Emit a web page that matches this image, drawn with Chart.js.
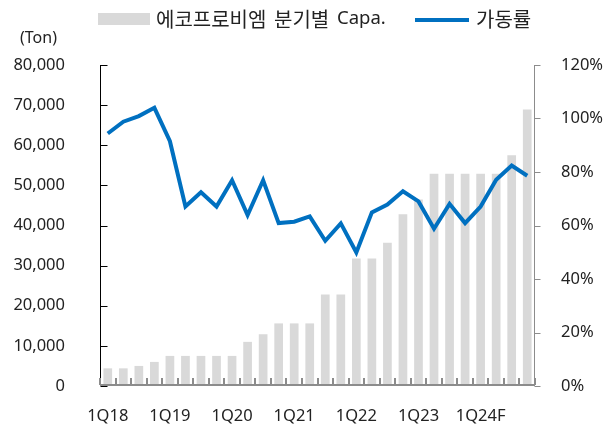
<!DOCTYPE html>
<html>
<head>
<meta charset="utf-8">
<script src="https://cdn.jsdelivr.net/npm/chart.js@4.4.1/dist/chart.umd.min.js"></script>
<style>
body { margin: 0; background: #fff; }
#wrap { position: relative; width: 611px; height: 425px; }
#c { position: absolute; left: 0; top: 0; }
.lg { position: absolute; font-family: "Noto Sans CJK KR", sans-serif; font-size: 20px; color: #222; line-height: 1; white-space: nowrap; }
</style>
</head>
<body>
<div id="wrap">
  <canvas id="c" width="611" height="425"></canvas>
  <div style="position:absolute;left:98px;top:13px;width:52px;height:12px;background:#d9d9d9"></div>
  <div class="lg" style="left:156px;top:9px">에코프로비엠</div>
  <div class="lg" style="left:274px;top:9px">분기별</div>
  <div class="lg" style="left:337px;top:8px;font-family:'Noto Sans',sans-serif;font-size:18.5px">Capa.</div>
  <div style="position:absolute;left:415px;top:18px;width:54px;height:4px;background:#0070c0"></div>
  <div class="lg" style="left:476px;top:9px">가동률</div>
  <div class="lg" style="left:20px;top:29px;font-family:'Noto Sans',sans-serif;font-size:16px">(Ton)</div>
</div>
<script>
// 분기
const quarters = [
  '1Q18','2Q18','3Q18','4Q18',
  '1Q19','2Q19','3Q19','4Q19',
  '1Q20','2Q20','3Q20','4Q20',
  '1Q21','2Q21','3Q21','4Q21',
  '1Q22','2Q22','3Q22','4Q22',
  '1Q23','2Q23','3Q23','4Q23',
  '1Q24F','2Q24F','3Q24F','4Q24F'
];
// 분기별 Capa (Ton)
const capa = [4400, 4400, 5000, 6000, 7500, 7500, 7500, 7500, 7500, 11000, 12900, 15600, 15600, 15600,
  22800, 22800, 31800, 31800, 35700, 42800, 46500, 52900, 52900, 52900, 52900, 52900, 57500, 68900];
// 가동률 (%)
const util = [94.4, 98.8, 100.9, 104, 91.5, 67.1, 72.4, 67.1, 76.9, 63.9, 76.9, 60.9, 61.4, 63.4,
  54.3, 60.8, 49.9, 64.9, 67.8, 72.8, 69, 58.8, 68.1, 60.9, 67.1, 77.1, 82.4, 78.6];

const font = { family: '"Noto Sans", "Noto Sans CJK KR", sans-serif', size: 16.5 };

// 축선과 안쪽 눈금
const axisLines = {
  id: 'axisLines',
  afterDatasetsDraw(chart) {
    const { ctx, chartArea: a, scales: { x, y, y2 } } = chart;
    ctx.save();
    ctx.strokeStyle = '#000';
    ctx.lineWidth = 1;
    ctx.beginPath();
    const lx = Math.round(a.left) + 0.5;
    ctx.moveTo(lx, a.top);
    ctx.lineTo(lx, a.bottom);
    y.ticks.forEach(t => {
      const py = Math.round(y.getPixelForValue(t.value)) + 0.5;
      ctx.moveTo(lx, py);
      ctx.lineTo(lx + 7, py);
    });
    ctx.stroke();

    ctx.strokeStyle = '#8c8c8c';
    ctx.beginPath();
    const rx = Math.round(a.right) - 0.5;
    ctx.moveTo(rx, a.top);
    ctx.lineTo(rx, a.bottom);
    y2.ticks.forEach(t => {
      const py = Math.round(y2.getPixelForValue(t.value)) + 0.5;
      ctx.moveTo(rx, py);
      ctx.lineTo(rx + 6, py);
    });
    ctx.stroke();

    ctx.lineWidth = 2;
    ctx.beginPath();
    const by = Math.round(a.bottom) - 1;
    ctx.moveTo(a.left, by);
    ctx.lineTo(a.right, by);
    const half = (x.getPixelForValue(1) - x.getPixelForValue(0)) / 2;
    for (let i = 0; i <= quarters.length; i++) {
      const px = Math.round(x.getPixelForValue(0) - half + i * half * 2);
      ctx.moveTo(px, by);
      ctx.lineTo(px, by - 7);
    }
    ctx.stroke();
    ctx.restore();
  }
};

new Chart(document.getElementById('c'), {
  type: 'bar',
  data: {
    labels: quarters,
    datasets: [
      {
        type: 'line',
        label: '가동률',
        data: util,
        yAxisID: 'y2',
        borderColor: '#0070c0',
        borderWidth: 4,
        pointRadius: 0,
        tension: 0,
        order: 1
      },
      {
        label: '에코프로비엠 분기별 Capa.',
        data: capa,
        yAxisID: 'y',
        backgroundColor: '#d9d9d9',
        categoryPercentage: 1,
        barPercentage: 0.56,
        order: 2
      }
    ]
  },
  options: {
    responsive: false,
    animation: false,
    layout: { padding: { top: 65, left: 0, right: 0, bottom: 0 } },
    plugins: { legend: { display: false }, tooltip: { enabled: false } },
    scales: {
      x: {
        grid: { display: false },
        border: { display: false },
        ticks: {
          autoSkip: false,
          maxRotation: 0,
          padding: 12,
          color: '#222',
          font: font,
          callback: (v, i) => (i % 4 === 0 ? quarters[i] : '')
        },
        afterFit: s => { s.height = 39; }
      },
      y: {
        position: 'left',
        min: 0,
        max: 80000,
        grid: { display: false },
        border: { display: false },
        ticks: {
          stepSize: 10000,
          padding: 27,
          color: '#222',
          font: font,
          callback: v => v.toLocaleString('en-US')
        },
        afterFit: s => { s.width = 100; }
      },
      y2: {
        position: 'right',
        min: 0,
        max: 120,
        grid: { display: false },
        border: { display: false },
        ticks: {
          stepSize: 20,
          padding: 18,
          color: '#222',
          font: font,
          callback: v => v + '%'
        },
        afterFit: s => { s.width = 76; }
      }
    }
  },
  plugins: [axisLines]
});
</script>
</body>
</html>
